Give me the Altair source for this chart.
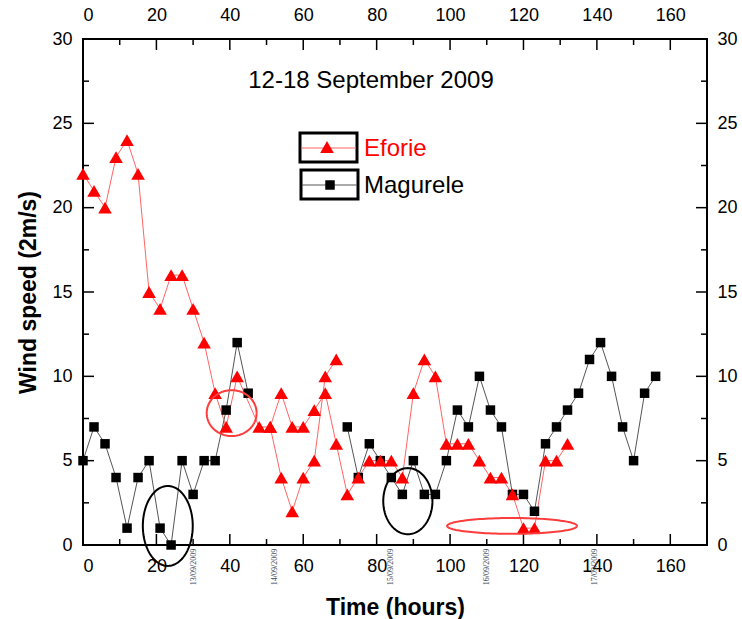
import altair as alt
import numpy as np
import pandas as pd

# ---- wind speed at 2 m, 3-hourly, 12-18 September 2009 ----
mag_hours = [0, 3, 6, 9, 12, 15, 18, 21, 24, 27, 30, 33, 36, 39, 42, 45,
             72, 75, 78, 81, 84, 87, 90, 93, 96, 99, 102, 105, 108, 111, 114,
             117, 120, 123, 126, 129, 132, 135, 138, 141, 144, 147, 150, 153, 156]
mag_speed = [5, 7, 6, 4, 1, 4, 5, 1, 0, 5, 3, 5, 5, 8, 12, 9,
             7, 4, 6, 5, 4, 3, 5, 3, 3, 5, 8, 7, 10, 8, 7,
             3, 3, 2, 6, 7, 8, 9, 11, 12, 10, 7, 5, 9, 10]
mag_trace = [0] * 16 + [1] * 29

eforie_hours = [0, 3, 6, 9, 12, 15, 18, 21, 24, 27, 30, 33, 36, 39, 42,
                48, 51, 54, 57, 60, 63, 66, 69, 72, 75, 78, 81, 84, 87, 90,
                93, 96, 99, 102, 105, 108, 111, 114, 117, 120, 123, 126, 129, 132,
                51, 54, 57, 60, 63, 66, 69]
eforie_speed = [22, 21, 20, 23, 24, 22, 15, 14, 16, 16, 14, 12, 9, 7, 10,
                7, 7, 9, 7, 7, 8, 9, 6, 3, 4, 5, 5, 5, 4, 9,
                11, 10, 6, 6, 6, 5, 4, 4, 3, 1, 1, 5, 5, 6,
                7, 4, 2, 4, 5, 10, 11]
eforie_trace = [0] * 44 + [1] * 7

# dates written under the time axis
date_hours = [30.2, 52.2, 83.9, 110.1, 139.6]
date_text = ["13/09/2009", "14/09/2009", "15/09/2009", "16/09/2009", "17/09/2009"]

# highlighted episodes (centre in hours / m/s, half-axes in the same units)
ell_color = ["black", "black", "red", "red"]
ell_cx = [23.1, 88.5, 40.5, 116.9]
ell_cy = [1.13, 2.6, 7.82, 1.13]
ell_rx = [6.8, 6.7, 6.8, 17.7]
ell_ry = [2.37, 1.96, 1.36, 0.47]

x_major = [0, 20, 40, 60, 80, 100, 120, 140, 160]
x_minor = [10, 30, 50, 70, 90, 110, 130, 150]
y_major = [0, 5, 10, 15, 20, 25, 30]
y_minor = [2.5, 7.5, 12.5, 17.5, 22.5, 27.5]

W, H = 624, 506
FONT = "Liberation Sans"
RED = "#ff0000"

xs = alt.Scale(domain=[0, 170], nice=False, zero=False)
ys = alt.Scale(domain=[0, 30], nice=False, zero=False)

mag = pd.DataFrame({"hours": mag_hours, "speed": mag_speed, "trace": mag_trace})
mag["k"] = range(len(mag))
efo = pd.DataFrame({"hours": eforie_hours, "speed": eforie_speed, "trace": eforie_trace})
efo["k"] = range(len(efo))

# ellipse outlines
t = np.linspace(0, 2 * np.pi, 121)
rows = []
for i in range(len(ell_cx)):
    for j, a in enumerate(t):
        rows.append({"ell": i, "j": j, "color": ell_color[i],
                     "hours": ell_cx[i] + ell_rx[i] * np.cos(a),
                     "speed": ell_cy[i] + ell_ry[i] * np.sin(a)})
ell = pd.DataFrame(rows)

one = pd.DataFrame({"a": [0]})

def X(axis=None):
    return alt.X("hours:Q", scale=xs, axis=axis)

def Y(axis=None):
    return alt.Y("speed:Q", scale=ys, axis=axis)

layers = []

# axes: bottom/left carry titles, top/right labels only
ax_bl = alt.Chart(mag).mark_point(opacity=0).encode(
    x=X(alt.Axis(values=x_major, title="Time (hours)", ticks=False, domain=False, grid=False,
                 labelFontSize=18, labelPadding=12, titleFontSize=23, titleFontWeight="bold",
                 titlePadding=21, orient="bottom")),
    y=Y(alt.Axis(values=y_major, title="Wind speed (2m/s)", ticks=False, domain=False, grid=False,
                 labelFontSize=18, labelPadding=11, titleFontSize=23, titleFontWeight="bold",
                 titlePadding=11, orient="left")),
)
ax_tr = alt.Chart(mag).mark_point(opacity=0).encode(
    x=X(alt.Axis(values=x_major, title=None, ticks=False, domain=False, grid=False,
                 labelFontSize=18, labelPadding=15, orient="top")),
    y=Y(alt.Axis(values=y_major, title=None, ticks=False, domain=False, grid=False,
                 labelFontSize=18, labelPadding=10, orient="right")),
)
layers += [ax_bl, ax_tr]

# inward ticks on all four sides
def xticks(vals, ln):
    d = pd.DataFrame({"hours": vals})
    b = alt.Chart(d).mark_rule(color="black", strokeWidth=1.5).encode(
        x=X(), y=alt.value(H), y2=alt.value(H - ln))
    tp = alt.Chart(d).mark_rule(color="black", strokeWidth=1.5).encode(
        x=X(), y=alt.value(0), y2=alt.value(ln))
    return [b, tp]

def yticks(vals, ln):
    d = pd.DataFrame({"speed": vals})
    l = alt.Chart(d).mark_rule(color="black", strokeWidth=1.5).encode(
        y=Y(), x=alt.value(0), x2=alt.value(ln))
    r = alt.Chart(d).mark_rule(color="black", strokeWidth=1.5).encode(
        y=Y(), x=alt.value(W), x2=alt.value(W - ln))
    return [l, r]

layers += xticks(x_major, 11) + xticks(x_minor, 6) + yticks(y_major, 11) + yticks(y_minor, 6)

# series lines
mag_line = alt.Chart(mag).mark_line(color="#555555", strokeWidth=1).encode(
    x=X(), y=Y(), detail="trace:N", order="k:Q")
efo_line = alt.Chart(efo).mark_line(color="#ff6464", strokeWidth=1).encode(
    x=X(), y=Y(), detail="trace:N", order="k:Q")
mag_pts = alt.Chart(mag).mark_point(shape="square", filled=True, size=90, color="black",
                                    opacity=1).encode(x=X(), y=Y())
efo_pts = alt.Chart(efo).mark_point(shape="triangle-up", filled=True, size=185, color=RED,
                                    opacity=1).encode(x=X(), y=Y())
layers += [mag_line, efo_line, mag_pts, efo_pts]

# highlighted episodes
ell_black = alt.Chart(ell[ell.color == "black"]).mark_line(color="black", strokeWidth=2).encode(
    x=X(), y=Y(), detail="ell:N", order="j:Q")
ell_red = alt.Chart(ell[ell.color == "red"]).mark_line(color="#ff3c3c", strokeWidth=2).encode(
    x=X(), y=Y(), detail="ell:N", order="j:Q")
layers += [ell_black, ell_red]

# date stamps under the axis
dates = pd.DataFrame({"hours": date_hours, "label": date_text})
layers.append(alt.Chart(dates).mark_text(angle=270, fontSize=8, font="Liberation Serif",
                                         color="#3a4656", align="center", baseline="middle").encode(
    x=X(), y=alt.value(H + 22), text="label:N"))

# period label
layers.append(alt.Chart(one).mark_text(text="12-18 September 2009", fontSize=24, font=FONT,
                                       color="black", align="center", baseline="middle").encode(
    x=alt.value(288), y=alt.value(42)))

# boxed legend
for (x0, y0, x1, y1) in [(217, 94, 274, 123), (218, 131, 275, 160)]:
    layers.append(alt.Chart(one).mark_rect(fill="transparent", stroke="black", strokeWidth=3).encode(
        x=alt.value(x0), x2=alt.value(x1), y=alt.value(y0), y2=alt.value(y1)))
layers.append(alt.Chart(one).mark_rule(color="#ff6464", strokeWidth=1).encode(
    x=alt.value(218), x2=alt.value(273), y=alt.value(109)))
layers.append(alt.Chart(one).mark_rule(color="#555555", strokeWidth=1).encode(
    x=alt.value(219), x2=alt.value(274), y=alt.value(146)))
layers.append(alt.Chart(one).mark_point(shape="triangle-up", filled=True, size=185, color=RED,
                                        opacity=1).encode(x=alt.value(244), y=alt.value(108)))
layers.append(alt.Chart(one).mark_point(shape="square", filled=True, size=90, color="black",
                                        opacity=1).encode(x=alt.value(247), y=alt.value(146)))
layers.append(alt.Chart(one).mark_text(text="Eforie", fontSize=24, font=FONT, color=RED,
                                       align="left", baseline="middle").encode(
    x=alt.value(281), y=alt.value(110)))
layers.append(alt.Chart(one).mark_text(text="Magurele", fontSize=24, font=FONT, color="black",
                                       align="left", baseline="middle").encode(
    x=alt.value(281), y=alt.value(147)))

chart = alt.layer(*layers).resolve_axis(x="independent", y="independent").properties(
    width=W, height=H,
    autosize=alt.AutoSizeParams(type="none"),
    padding={"left": 83, "top": 39, "right": 35, "bottom": 74},
).configure_view(stroke="black", strokeWidth=2).configure_axis(
    labelFont=FONT, titleFont=FONT, labelColor="black", titleColor="black"
)

chart.save("out.html", embed_options={"renderer": "svg", "actions": False})
